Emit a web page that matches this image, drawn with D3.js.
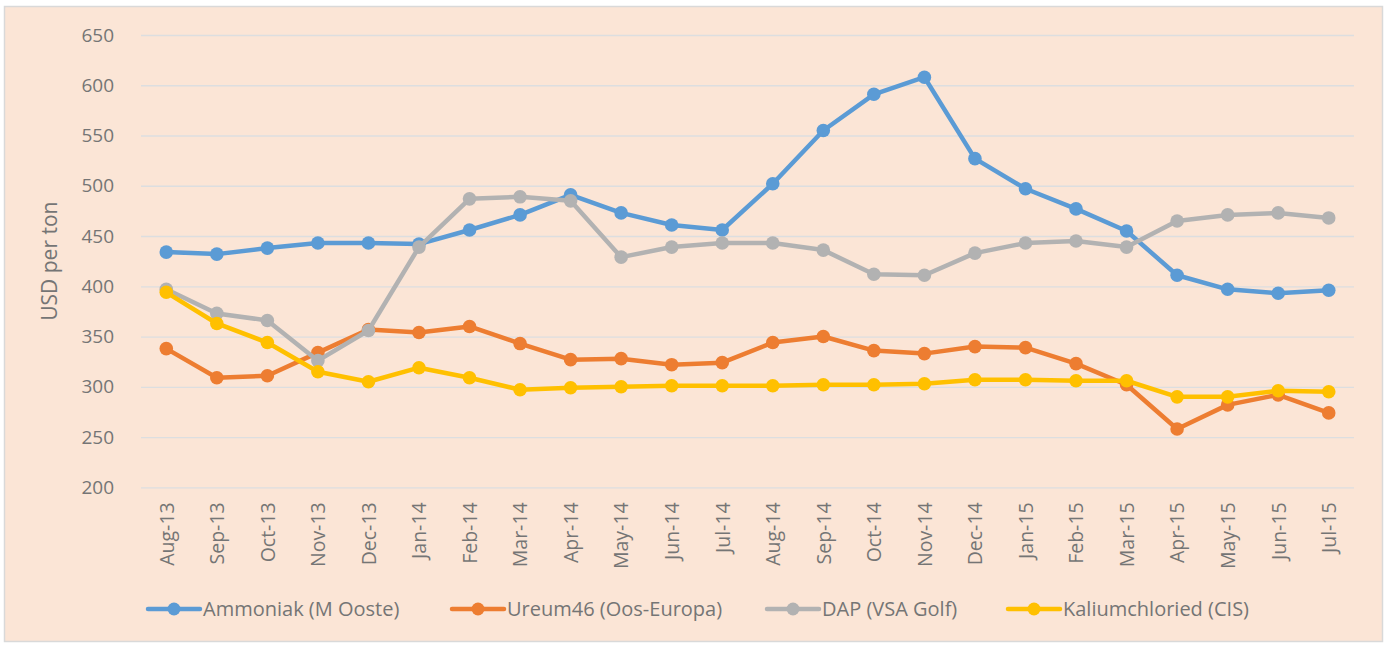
<!DOCTYPE html>
<html lang="nl">
<head>
<meta charset="UTF-8">
<title>Kunstmestprijzen</title>
<script src="https://d3js.org/d3.v7.min.js"></script>
<style>
  body { margin: 0; background: #fff; }
  text { font-family: "Open Sans", sans-serif; fill: #757575; }
</style>
</head>
<body>
<div id="chart"></div>
<script>
// categories and series
var months = ["Aug-13","Sep-13","Oct-13","Nov-13","Dec-13","Jan-14","Feb-14","Mar-14","Apr-14","May-14","Jun-14","Jul-14",
              "Aug-14","Sep-14","Oct-14","Nov-14","Dec-14","Jan-15","Feb-15","Mar-15","Apr-15","May-15","Jun-15","Jul-15"];
var ammoniak = [434,432,438,443,443,442,456,471,491,473,461,456,502,555,591,608,527,497,477,455,411,397,393,396];
var ureum    = [338,309,311,334,357,354,360,343,327,328,322,324,344,350,336,333,340,339,323,302,258,282,292,274];
var dap      = [397,373,366,326,356,439,487,489,485,429,439,443,443,436,412,411,433,443,445,439,465,471,473,468];
var kalium   = [394,363,344,315,305,319,309,297,299,300,301,301,301,302,302,303,307,307,306,306,290,290,296,295];
var yTicks   = [200,250,300,350,400,450,500,550,600,650];

var series = [
  {name: "Ammoniak (M Ooste)",   values: ammoniak, color: "#5B9BD5"},
  {name: "Ureum46 (Oos-Europa)", values: ureum,    color: "#ED7D31"},
  {name: "DAP (VSA Golf)",       values: dap,      color: "#B2B2B2"},
  {name: "Kaliumchloried (CIS)", values: kalium,   color: "#FFC000"}
];

var W = 1389, H = 646;
var svg = d3.select("#chart").append("svg")
    .attr("width", W).attr("height", H);

// chart area background
svg.append("rect")
    .attr("x", 4.5).attr("y", 6.5)
    .attr("width", 1378).attr("height", 635)
    .attr("fill", "#FBE5D6")
    .attr("stroke", "#D9D9D9")
    .attr("stroke-width", 1.5);

var plotLeft = 141, plotRight = 1354, plotTop = 35, plotBottom = 487.3;

var x = d3.scalePoint().domain(months).range([plotLeft, plotRight]).padding(0.5);
var y = d3.scaleLinear().domain([200, 650]).range([plotBottom, plotTop]);

// gridlines + y labels
var yAxis = svg.append("g")
    .attr("transform", "translate(" + plotLeft + ",0)")
    .call(d3.axisLeft(y).tickValues(yTicks).tickSize(-(plotRight - plotLeft)).tickPadding(27));
yAxis.select(".domain").remove();
yAxis.selectAll("line").attr("stroke", "#DCDEE0").attr("stroke-width", 1.3);
yAxis.selectAll("text").attr("font-size", 19).style("fill", "#757575");

// x labels
var xAxis = svg.append("g")
    .attr("transform", "translate(0," + plotBottom + ")")
    .call(d3.axisBottom(x).tickSize(0));
xAxis.select(".domain").remove();
xAxis.selectAll("text")
    .attr("font-size", 19.5)
    .style("fill", "#757575")
    .attr("text-anchor", "end")
    .attr("dy", "0.35em")
    .attr("transform", "translate(0,15) rotate(-90)")
    .attr("x", 0).attr("y", 0);

// y axis title
svg.append("text")
    .attr("transform", "translate(57," + ((plotTop + plotBottom) / 2) + ") rotate(-90)")
    .attr("text-anchor", "middle")
    .attr("font-size", 21)
    .text("USD per ton");

// lines and markers
var line = d3.line()
    .x(function(d, i) { return x(months[i]); })
    .y(function(d) { return y(d); });

series.forEach(function(s) {
  var g = svg.append("g");
  g.append("path")
    .datum(s.values)
    .attr("fill", "none")
    .attr("stroke", s.color)
    .attr("stroke-width", 4.5)
    .attr("stroke-linejoin", "round")
    .attr("d", line);
  g.selectAll("circle")
    .data(s.values)
    .enter().append("circle")
    .attr("cx", function(d, i) { return x(months[i]); })
    .attr("cy", function(d) { return y(d); })
    .attr("r", 6.8)
    .attr("fill", s.color);
});

// legend
var legendX = [148, 452, 767, 1008];
var legend = svg.append("g").attr("transform", "translate(0,609)");
series.forEach(function(s, i) {
  var lg = legend.append("g").attr("transform", "translate(" + legendX[i] + ",0)");
  lg.append("line")
    .attr("x1", 0).attr("x2", 52)
    .attr("stroke", s.color).attr("stroke-width", 4.5)
    .attr("stroke-linecap", "round");
  lg.append("circle").attr("cx", 26).attr("r", 6.5).attr("fill", s.color);
  lg.append("text")
    .attr("x", 55).attr("dy", "0.35em")
    .attr("font-size", 20)
    .text(s.name);
});
</script>
</body>
</html>
